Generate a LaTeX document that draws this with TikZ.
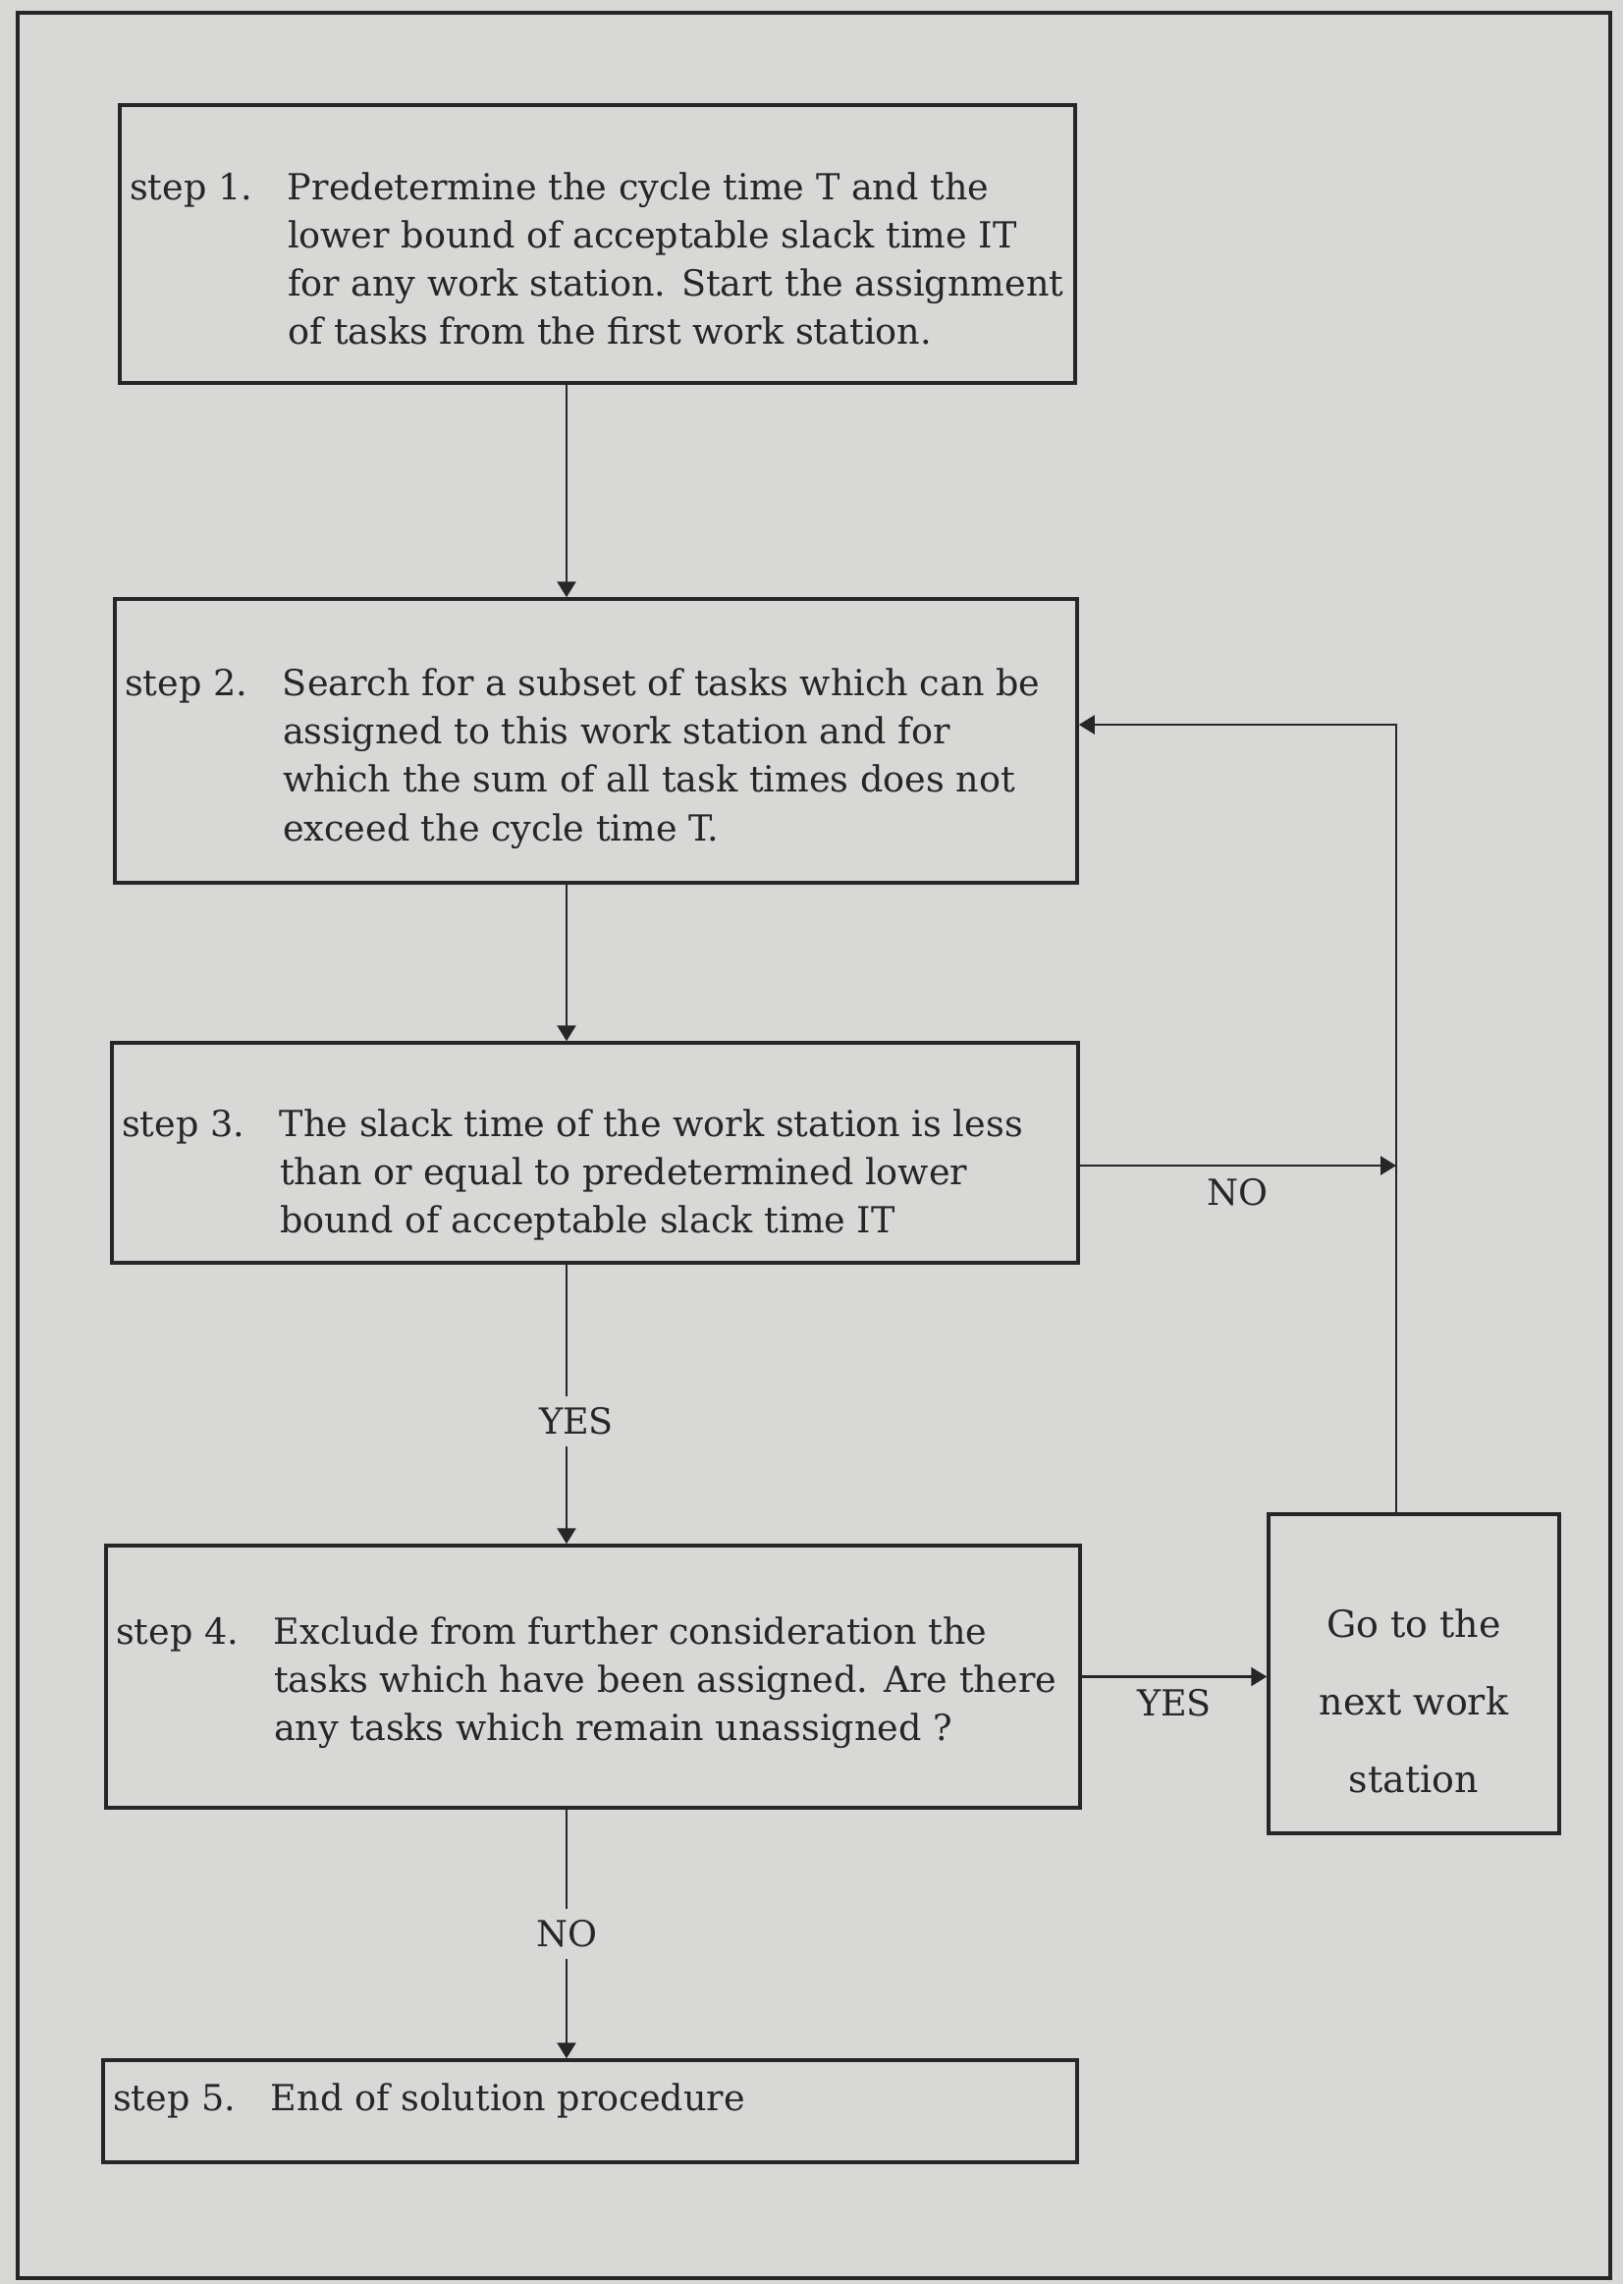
\documentclass[tikz,border=0pt]{standalone}
\usepackage{fontspec}
\setmainfont{DejaVu Serif}
\usetikzlibrary{positioning, arrows.meta, calc}
\definecolor{paper}{RGB}{216,216,214}
\definecolor{ink}{RGB}{38,38,38}
\tikzset{
  stepbox/.style = {draw=ink, line width=1pt, rectangle, inner sep=0pt,
                    align=left, font=\fontsize{10.4}{14}\selectfont, text=ink},
  gobox/.style   = {stepbox, align=center, font=\fontsize{10.8}{22.4}\selectfont},
  lbl/.style     = {font=\fontsize{10.4}{12}\selectfont, text=ink},
  arrow/.style   = {-{Triangle[length=1.6mm, width=1.9mm]}, draw=ink, line width=0.7pt},
}
% width, drop from top, step label, text
\newcommand{\steptext}[4]{\parbox{#1}{\vspace*{#2}\makebox[1.61cm][l]{#3}\parbox[t]{8.3cm}{#4}}}

\begin{document}
\begin{tikzpicture}[x=1cm, y=1cm]
  % page and frame
  \fill[paper] (0,0) rectangle (16.53,-23.26);
  \draw[ink, line width=1pt] (0.18,-0.13) rectangle (16.40,-23.20);

  \node[stepbox, minimum width=9.73cm, minimum height=2.83cm] at (6.085, -2.485) (s1)
    {\steptext{9.53cm}{0.30cm}{step 1.}{Predetermine the cycle time T and the\\ lower bound of acceptable slack time IT\\ for any work station. Start the assignment\\ of tasks from the first work station.}};
  \node[stepbox, minimum width=9.80cm, minimum height=2.89cm] at (6.07, -7.545) (s2)
    {\steptext{9.60cm}{0.36cm}{step 2.}{Search for a subset of tasks which can be\\ assigned to this work station and for\\ which the sum of all task times does not\\ exceed the cycle time T.}};
  \node[stepbox, minimum width=9.84cm, minimum height=2.24cm] at (6.06, -11.74) (s3)
    {\steptext{9.64cm}{0.45cm}{step 3.}{The slack time of the work station is less\\ than or equal to predetermined lower\\ bound of acceptable slack time IT}};
  \node[stepbox, minimum width=9.92cm, minimum height=2.67cm] at (6.04, -17.075) (s4)
    {\steptext{9.72cm}{0.12cm}{step 4.}{Exclude from further consideration the\\ tasks which have been assigned. Are there\\ any tasks which remain unassigned ?}};
  \node[stepbox, minimum width=9.92cm, minimum height=1.04cm] at (6.01, -21.50) (s5)
    {\steptext{9.72cm}{-0.20cm}{step 5.}{End of solution procedure}};
  \node[gobox, minimum width=2.96cm, minimum height=3.25cm] at (14.40, -17.045) (next)
    {\parbox{2.8cm}{\centering\vspace*{0.56cm}Go to the\\ next work\\ station}};

  \coordinate (spine) at (5.77, 0);
  \coordinate (rail)  at (14.22, -7.38);

  \draw[arrow] (s1.south -| spine) -- (s2.north -| spine);
  \draw[arrow] (s2.south -| spine) -- (s3.north -| spine);
  \draw[arrow] (s3.south -| spine) -- node[lbl, fill=paper, pos=0.56, xshift=1mm]{YES} (s4.north -| spine);
  \draw[arrow] (s4.south -| spine) -- node[lbl, fill=paper, pos=0.5]{NO} (s5.north -| spine);
  \draw[arrow] ([yshift=-1.3mm]s3.east) -- ([yshift=-1.3mm]s3.east -| rail) node[lbl, midway, below]{NO};
  \draw[arrow] (s4.east) -- node[lbl, midway, below]{YES} (s4.east -| next.west);
  \draw[arrow] (next.north -| rail) -- (rail) -- (rail -| s2.east);
\end{tikzpicture}
\end{document}
